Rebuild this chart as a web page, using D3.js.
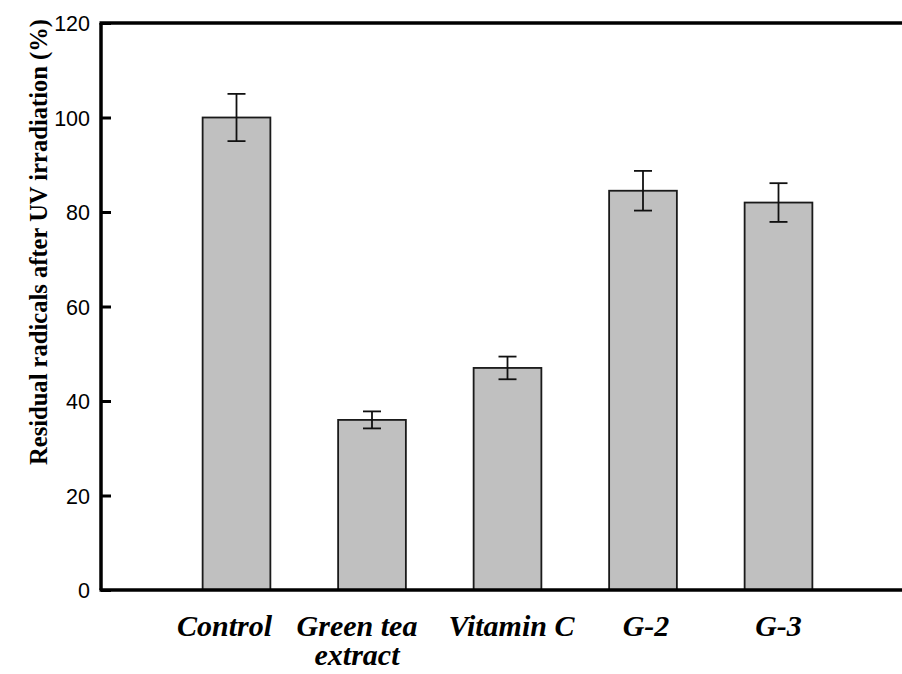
<!DOCTYPE html>
<html>
<head>
<meta charset="utf-8">
<script src="https://cdn.jsdelivr.net/npm/d3@7"></script>
<style>
  body { margin: 0; background: #fff; }
  .tick text { font-family: Arial, 'Liberation Sans', sans-serif; font-size: 21.5px; fill: #000; }
  .ylabel { font-family: 'Times New Roman', 'Liberation Serif', serif; font-weight: bold; font-size: 26px; }
  .xlab { font-family: 'Times New Roman', 'Liberation Serif', serif; font-weight: bold; font-style: italic; font-size: 30px; }
</style>
</head>
<body>
<div id="chart"></div>
<script>
const categories = ["Control", "Green tea\nextract", "Vitamin C", "G-2", "G-3"];
const values = [100, 36, 47, 84.5, 82];
const errors = [5, 1.8, 2.4, 4.2, 4.1];
const yTicks = [0, 20, 40, 60, 80, 100, 120];

const width = 902, height = 674;
const margin = {top: 23, left: 101, bottom: 84};
const step = 135.5;
// labels are not quite centred under the bars in the original
const labelNudge = [-12, -15, 4, 3, 0];

const svg = d3.select("#chart").append("svg")
    .attr("width", width)
    .attr("height", height);

const y = d3.scaleLinear()
    .domain([0, 120])
    .range([height - margin.bottom, margin.top]);

// one empty slot before and after the bars
const x = d3.scaleBand()
    .domain(categories)
    .range([margin.left + step * 0.5, margin.left + step * 5.5])
    .paddingInner(0.5)
    .paddingOuter(0.25);

// bars
svg.selectAll("rect.bar")
    .data(values)
    .enter()
    .append("rect")
    .attr("class", "bar")
    .attr("x", (d, i) => x(categories[i]))
    .attr("y", d => y(d))
    .attr("width", x.bandwidth())
    .attr("height", d => y(0) - y(d))
    .style("fill", "#c0c0c0")
    .style("stroke", "#1a1a1a")
    .style("stroke-width", 1.8);

// error bars
const err = svg.selectAll("g.err")
    .data(values)
    .enter()
    .append("g")
    .attr("class", "err")
    .attr("transform", (d, i) => "translate(" + (x(categories[i]) + x.bandwidth() / 2) + ",0)")
    .style("stroke", "#111")
    .style("stroke-width", 1.8);

err.append("line")
    .attr("y1", (d, i) => y(d + errors[i]))
    .attr("y2", (d, i) => y(d - errors[i]));
err.append("line")
    .attr("x1", -9).attr("x2", 9)
    .attr("y1", (d, i) => y(d + errors[i]))
    .attr("y2", (d, i) => y(d + errors[i]));
err.append("line")
    .attr("x1", -9).attr("x2", 9)
    .attr("y1", (d, i) => y(d - errors[i]))
    .attr("y2", (d, i) => y(d - errors[i]));

// y axis, ticks pointing inward
const yAxis = svg.append("g")
    .attr("transform", "translate(" + margin.left + ",0)")
    .call(d3.axisLeft(y).tickValues(yTicks).tickSizeInner(-10).tickSizeOuter(0).tickPadding(11));
yAxis.select(".domain").remove();
yAxis.selectAll(".tick line").style("stroke", "#000").style("stroke-width", 3);
yAxis.selectAll(".tick text").attr("dy", "0.36em");

// frame lines: left, top, bottom
svg.append("line")
    .attr("x1", margin.left).attr("x2", margin.left)
    .attr("y1", y(120)).attr("y2", y(0))
    .style("stroke", "#000").style("stroke-width", 3.5);
svg.append("line")
    .attr("x1", margin.left - 1.5).attr("x2", width)
    .attr("y1", y(120)).attr("y2", y(120))
    .style("stroke", "#000").style("stroke-width", 3.5);
svg.append("line")
    .attr("x1", margin.left - 1.5).attr("x2", width)
    .attr("y1", y(0)).attr("y2", y(0))
    .style("stroke", "#000").style("stroke-width", 3.5);

// category labels
const xl = svg.selectAll("text.xlab")
    .data(categories)
    .enter()
    .append("text")
    .attr("class", "xlab")
    .attr("text-anchor", "middle")
    .attr("transform", (d, i) => "translate(" + (x(d) + x.bandwidth() / 2 + labelNudge[i]) + "," + (y(0) + 46) + ")");
xl.selectAll("tspan")
    .data(d => d.split("\n"))
    .enter()
    .append("tspan")
    .attr("x", 0)
    .attr("dy", (d, i) => i === 0 ? 0 : 29)
    .text(d => d);

// y label
svg.append("text")
    .attr("class", "ylabel")
    .attr("text-anchor", "middle")
    .attr("transform", "translate(47," + 242 + ") rotate(-90)")
    .attr("textLength", 446)
    .attr("lengthAdjust", "spacingAndGlyphs")
    .text("Residual radicals after UV irradiation (%)");
</script>
</body>
</html>
